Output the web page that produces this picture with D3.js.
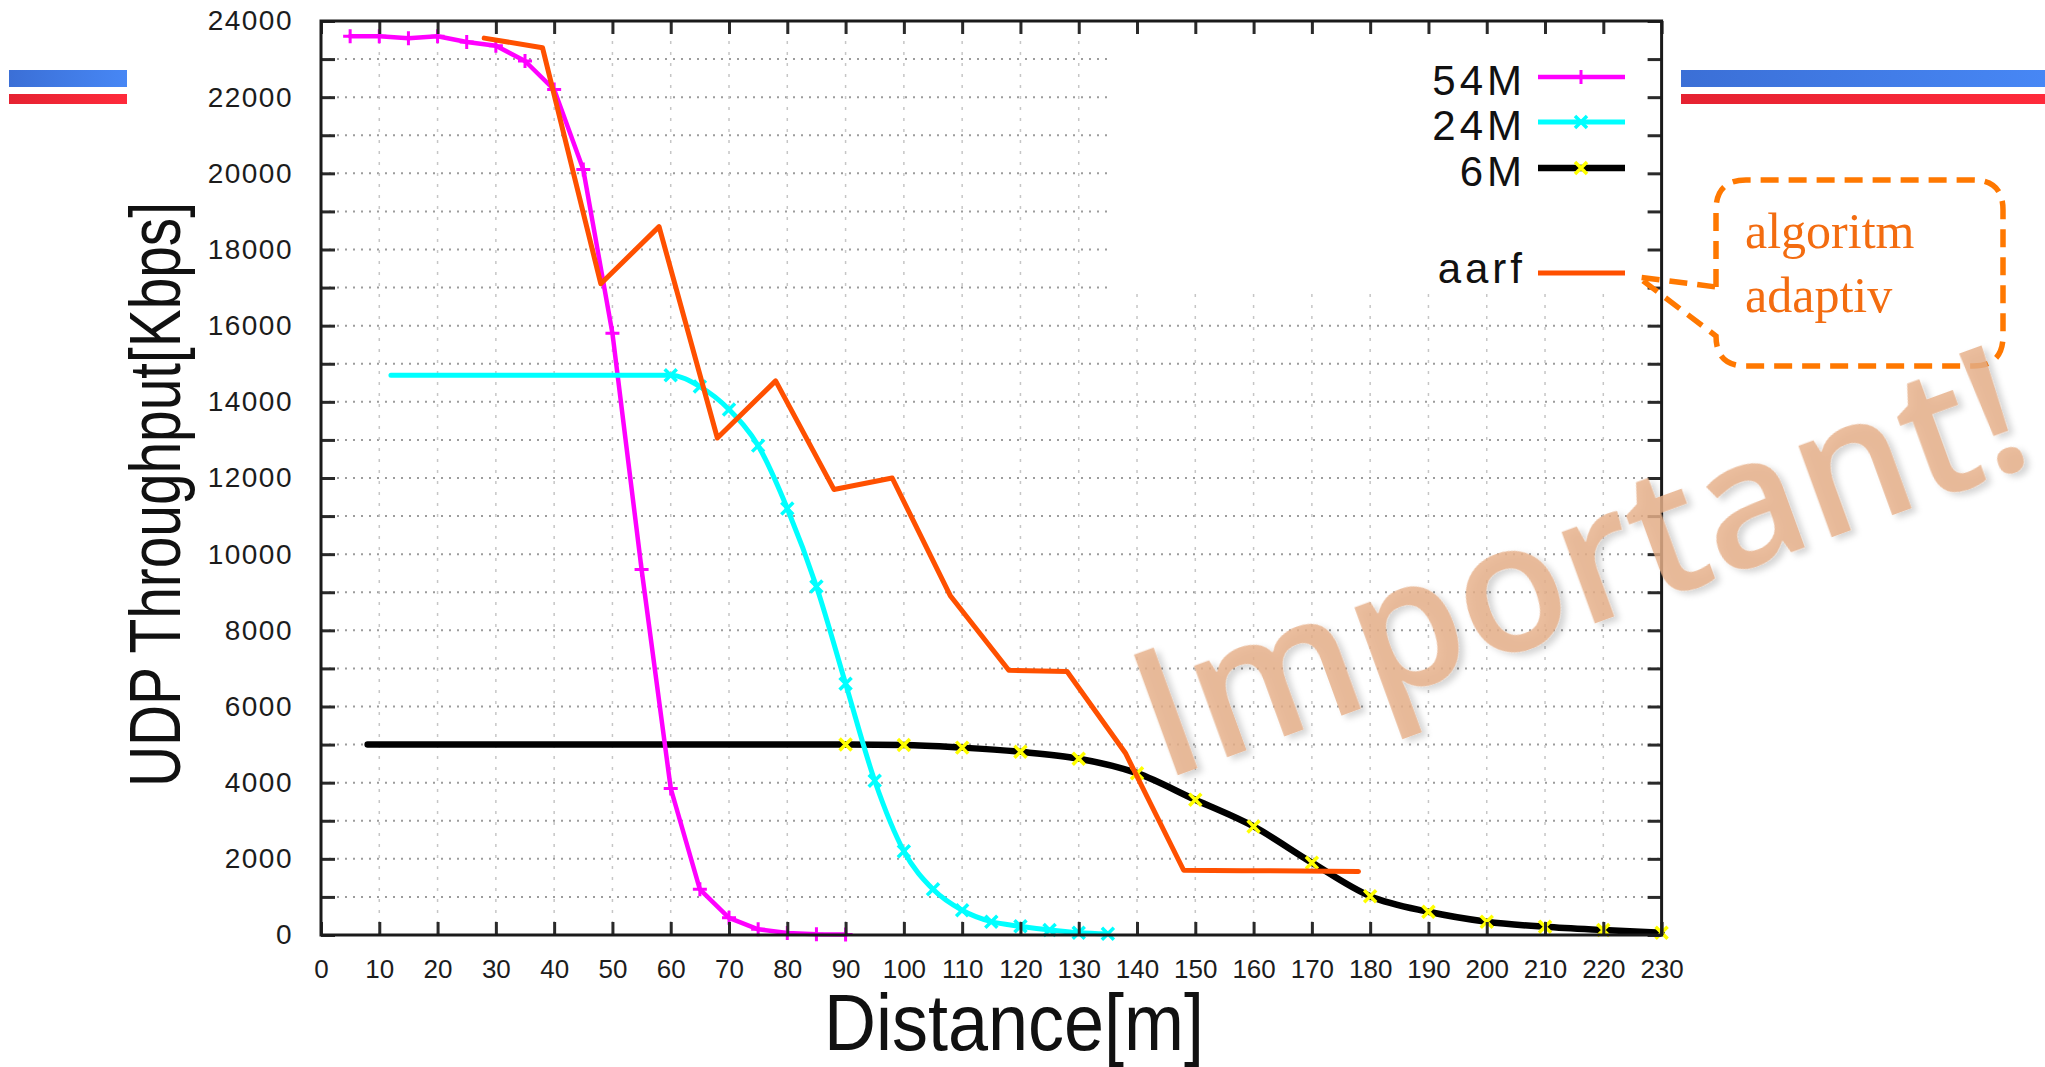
<!DOCTYPE html>
<meta charset="utf-8">
<style>
body { margin: 0; background: #fff; }
svg { display: block; font-family: "Liberation Sans", Arial, sans-serif; }
.axis .tick text { font-size: 28px; letter-spacing: 1.5px; fill: #1c1c1c; }
.axis.x .tick text { font-size: 26px; letter-spacing: 0; }
.axis .tick line { stroke: #2a2a2a; stroke-width: 3; }
.grid-h line { stroke: #9c9c9c; stroke-width: 2; stroke-dasharray: 2,6; }
.grid-v line { stroke: #c6c6c6; stroke-width: 1.5; stroke-dasharray: 3,8; }
.legend text { font-size: 42px; letter-spacing: 4px; fill: #111; text-anchor: end; }
</style>
<body>
<svg width="2045" height="1067"></svg>
<script src="https://d3js.org/d3.v7.min.js"></script>
<script>

// tick labels
var xTicks = [0, 10, 20, 30, 40, 50, 60, 70, 80, 90, 100, 110, 120, 130, 140, 150, 160, 170, 180, 190, 200, 210, 220, 230];
var yLabels = [0, 2000, 4000, 6000, 8000, 10000, 12000, 14000, 16000, 18000, 20000, 22000, 24000];

// 54M
var dist54 = [5, 10, 15, 20, 25, 30, 35, 40, 45, 50, 55, 60, 65, 70, 75, 80, 85, 90];
var thr54 = [23600, 23600, 23550, 23600, 23450, 23350, 22950, 22200, 20100, 15800, 9600, 3850, 1200, 450, 150, 50, 20, 10];

// 24M
var dist24 = [12, 60, 65, 70, 75, 80, 85, 90, 95, 100, 105, 110, 115, 120, 125, 130, 135];
var thr24 = [14700, 14700, 14400, 13800, 12850, 11200, 9150, 6600, 4050, 2200, 1200, 650, 350, 230, 130, 60, 30];

// 6M
var dist6 = [8, 90, 100, 110, 120, 130, 140, 150, 160, 170, 180, 190, 200, 210, 220, 230];
var thr6 = [5000, 5000, 4990, 4920, 4810, 4630, 4250, 3550, 2850, 1900, 1020, 610, 350, 215, 130, 60];

// aarf
var distAarf = [28, 38, 48, 58, 68, 78, 88, 98, 108, 118, 128, 138, 148, 158, 168, 178];
var thrAarf = [23550, 23300, 17100, 18600, 13050, 14550, 11700, 12000, 8900, 6950, 6920, 4780, 1700, 1690, 1680, 1670];

var svg = d3.select("svg");

var x = d3.scaleLinear().domain([0, 230]).range([321, 1661.6]),
    y = d3.scaleLinear().domain([0, 24000]).range([935, 21]);

function pts(xs, ys) {
  return xs.map(function(d, i) { return [d, ys[i]]; });
}

var series = [
  { name: "6M",   data: pts(dist6, thr6),       color: "#000000", width: 6.5, marker: "x", mcolor: "#ffff00", curve: d3.curveMonotoneX },
  { name: "54M",  data: pts(dist54, thr54),     color: "#ff00ff", width: 4.5, marker: "+", mcolor: "#ff00ff", curve: d3.curveLinear },
  { name: "24M",  data: pts(dist24, thr24),     color: "#00ffff", width: 5,   marker: "x", mcolor: "#00ffff", curve: d3.curveMonotoneX },
  { name: "aarf", data: pts(distAarf, thrAarf), color: "#ff5000", width: 5,   marker: null, curve: d3.curveLinear }
];

// page decorations (blue / red bars)
var deco = [[9, 127], [1681, 2045]];
var defs = svg.append("defs");
var gb = defs.append("linearGradient").attr("id", "gblue");
gb.append("stop").attr("offset", "0%").attr("stop-color", "#3b6fd6");
gb.append("stop").attr("offset", "100%").attr("stop-color", "#4787f5");
var gr = defs.append("linearGradient").attr("id", "gred");
gr.append("stop").attr("offset", "0%").attr("stop-color", "#e52231");
gr.append("stop").attr("offset", "100%").attr("stop-color", "#ff2a3b");
deco.forEach(function(d) {
  svg.append("rect").attr("x", d[0]).attr("y", 70).attr("width", d[1] - d[0]).attr("height", 17).attr("fill", "url(#gblue)");
  svg.append("rect").attr("x", d[0]).attr("y", 94).attr("width", d[1] - d[0]).attr("height", 10).attr("fill", "url(#gred)");
});

var shadow = defs.append("filter").attr("id", "shadow").attr("x", "-10%").attr("y", "-10%").attr("width", "120%").attr("height", "130%");
shadow.append("feDropShadow").attr("dx", 4).attr("dy", 5).attr("stdDeviation", 3).attr("flood-color", "#000").attr("flood-opacity", 0.2);

// grid
svg.append("g").attr("class", "grid-h")
  .selectAll("line").data(d3.range(1000, 24000, 1000))
  .join("line")
    .attr("x1", x(0)).attr("x2", x(230))
    .attr("y1", function(d) { return y(d); }).attr("y2", function(d) { return y(d); });

svg.append("g").attr("class", "grid-v")
  .selectAll("line").data(xTicks.slice(1, -1))
  .join("line")
    .attr("x1", function(d) { return x(d); }).attr("x2", function(d) { return x(d); })
    .attr("y1", y(0)).attr("y2", y(24000));

// legend box hides the grid
svg.append("rect").attr("x", 1108).attr("y", 22).attr("width", x(230) - 1108).attr("height", 267).attr("fill", "#fff");

// lines
var line = d3.line()
    .x(function(d) { return x(d[0]); })
    .y(function(d) { return y(d[1]); });

function markerPath(type, s) {
  if (type === "+") return "M0," + (-s) + "V" + s + "M" + (-s) + ",0H" + s;
  return "M" + (-s) + "," + (-s) + "L" + s + "," + s + "M" + (-s) + "," + s + "L" + s + "," + (-s);
}

series.forEach(function(s) {
  svg.append("path")
      .attr("d", line.curve(s.curve)(s.data))
      .attr("fill", "none")
      .attr("stroke", s.color)
      .attr("stroke-width", s.width)
      .attr("stroke-linejoin", "round")
      .attr("stroke-linecap", "round");
  if (s.marker) {
    svg.append("g").selectAll("path")
      .data(s.data.slice(s.name === "54M" ? 0 : 1))
      .join("path")
        .attr("transform", function(d) { return "translate(" + x(d[0]) + "," + y(d[1]) + ")"; })
        .attr("d", markerPath(s.marker, s.marker === "+" ? 7 : 6))
        .attr("stroke", s.mcolor)
        .attr("stroke-width", s.marker === "+" ? 3 : 3.5)
        .attr("fill", "none");
  }
});

// axes
function noDomain(g) { g.select(".domain").remove(); }

svg.append("g").attr("class", "axis x")
    .attr("transform", "translate(0," + y(0) + ")")
    .call(d3.axisBottom(x).tickValues(xTicks).tickSizeInner(-13).tickSizeOuter(0).tickPadding(25))
    .call(noDomain);

svg.append("g").attr("class", "axis")
    .attr("transform", "translate(0," + y(24000) + ")")
    .call(d3.axisTop(x).tickValues(xTicks).tickSizeInner(-13).tickSizeOuter(0).tickFormat(""))
    .call(noDomain);

svg.append("g").attr("class", "axis")
    .attr("transform", "translate(" + x(0) + ",0)")
    .call(d3.axisLeft(y).tickValues(d3.range(0, 24001, 1000)).tickSizeInner(-14).tickSizeOuter(0).tickPadding(28)
      .tickFormat(function(d) { return yLabels.indexOf(d) >= 0 ? d : ""; }))
    .call(noDomain);

svg.append("g").attr("class", "axis")
    .attr("transform", "translate(" + x(230) + ",0)")
    .call(d3.axisRight(y).tickValues(d3.range(0, 24001, 1000)).tickSizeInner(-14).tickSizeOuter(0).tickFormat(""))
    .call(noDomain);

svg.append("rect")
    .attr("x", x(0)).attr("y", y(24000))
    .attr("width", x(230) - x(0)).attr("height", y(0) - y(24000))
    .attr("fill", "none").attr("stroke", "#1a1a1a").attr("stroke-width", 3);

// axis titles
svg.append("text")
    .attr("transform", "translate(180,787) rotate(-90)")
    .attr("font-size", 72)
    .attr("textLength", 585).attr("lengthAdjust", "spacingAndGlyphs")
    .attr("fill", "#111")
    .text("UDP Throughput[Kbps]");

svg.append("text")
    .attr("x", 824).attr("y", 1050)
    .attr("font-size", 79)
    .attr("textLength", 380).attr("lengthAdjust", "spacingAndGlyphs")
    .attr("fill", "#111")
    .text("Distance[m]");

// legend
var legendY = { "54M": 77, "24M": 122, "6M": 168, "aarf": 273 },
    legendOrder = ["54M", "24M", "6M", "aarf"];
var lg = svg.append("g").attr("class", "legend");
legendOrder.forEach(function(name) {
  var s = series.filter(function(d) { return d.name === name; })[0],
      ly = legendY[name];
  lg.append("text").attr("x", 1526).attr("y", ly + (name === "aarf" ? 10 : 18)).text(name);
  lg.append("line").attr("x1", 1538).attr("x2", 1625).attr("y1", ly).attr("y2", ly)
    .attr("stroke", s.color).attr("stroke-width", s.width);
  if (s.marker) {
    lg.append("path").attr("transform", "translate(1581," + ly + ")")
      .attr("d", markerPath(s.marker, s.marker === "+" ? 7 : 6))
      .attr("stroke", s.mcolor).attr("stroke-width", s.marker === "+" ? 3 : 3.5).attr("fill", "none");
  }
});

// callout
svg.append("path")
    .attr("d", "M1716,287 L1716,210 Q1716,180 1746,180 L1973,180 Q2003,180 2003,210 L2003,336 Q2003,366 1973,366 L1746,366 Q1716,366 1716,336 L1638,277 Z")
    .attr("fill", "none")
    .attr("stroke", "#ff7800")
    .attr("stroke-width", 5.5)
    .attr("stroke-dasharray", "18,10");

svg.append("g")
    .attr("font-family", "'Liberation Serif', 'Times New Roman', serif")
    .attr("font-size", 50)
    .attr("fill", "#f36c10")
  .selectAll("text").data(["algoritm", "adaptiv"])
  .join("text")
    .attr("x", 1745)
    .attr("y", function(d, i) { return 248 + i * 64; })
    .text(function(d) { return d; });

// watermark
svg.append("text")
    .attr("transform", "translate(1162,781) rotate(-20)")
    .attr("font-family", "'Open Sans', sans-serif")
    .attr("font-weight", 600)
    .attr("font-size", 179)
    .attr("fill", "#e6b089")
    .attr("fill-opacity", 0.82)
    .attr("filter", "url(#shadow)")
    .text("Important!");

</script>
</body>
